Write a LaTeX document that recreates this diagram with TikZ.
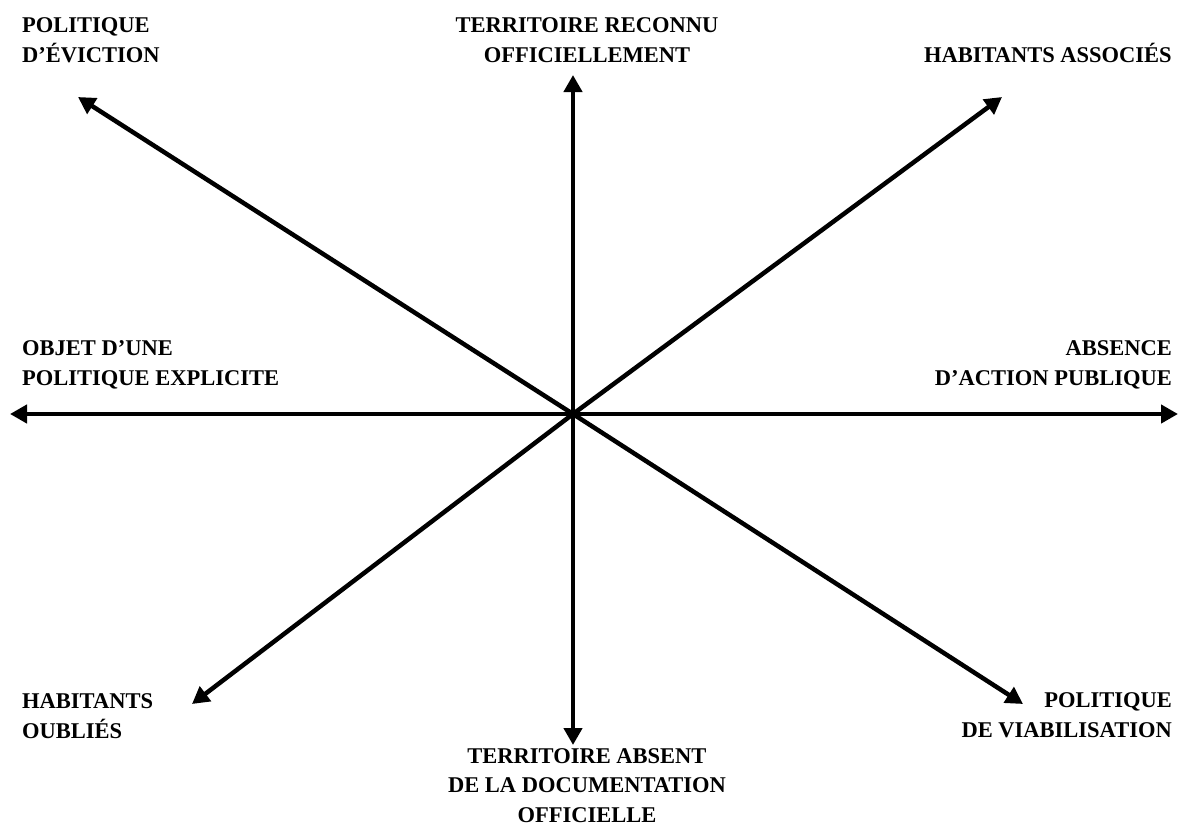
\documentclass[tikz,border=0pt]{standalone}
\usepackage{fontspec}
\setmainfont{Liberation Serif}
\usetikzlibrary{arrows.meta}
\tikzset{
  axis/.style={line width=4.5pt, -{Triangle[length=17pt,width=18pt]}},
  lab/.style={inner sep=0pt, font=\fontsize{22.5}{29.5}\selectfont\bfseries},
}
\begin{document}
\begin{tikzpicture}[x=1pt,y=-1pt]
\useasboundingbox (0,0) rectangle (1179,827);
\coordinate (C) at (573,414);
\coordinate (U) at (573,75);
\coordinate (D) at (573,745);
\coordinate (L) at (10,414);
\coordinate (R) at (1178,414);
\coordinate (UL) at (78,97);
\coordinate (UR) at (1002,97);
\coordinate (DL) at (192,704);
\coordinate (DR) at (1023,704);
\foreach \t in {U,D,L,R,UL,UR,DL,DR} \draw[axis] (C) -- (\t);
\node[lab, anchor=base west, align=left] (ev) at (22,62) {POLITIQUE\\D’ÉVICTION};
\node[lab, anchor=base, align=center] (ter) at (587,62) {TERRITOIRE RECONNU\\OFFICIELLEMENT};
\node[lab, anchor=base east, align=right] (ass) at (1172,62) {HABITANTS ASSOCIÉS};
\node[lab, anchor=base west, align=left] (obj) at (22,385) {OBJET D’UNE\\POLITIQUE EXPLICITE};
\node[lab, anchor=base east, align=right] (abs) at (1172,385) {ABSENCE\\D’ACTION PUBLIQUE};
\node[lab, anchor=base west, align=left] (oub) at (22,738) {HABITANTS\\OUBLIÉS};
\node[lab, anchor=base, align=center] (tab) at (587,822) {TERRITOIRE ABSENT\\DE LA DOCUMENTATION\\OFFICIELLE};
\node[lab, anchor=base east, align=right] (via) at (1172,737) {POLITIQUE\\DE VIABILISATION};
\end{tikzpicture}
\end{document}
